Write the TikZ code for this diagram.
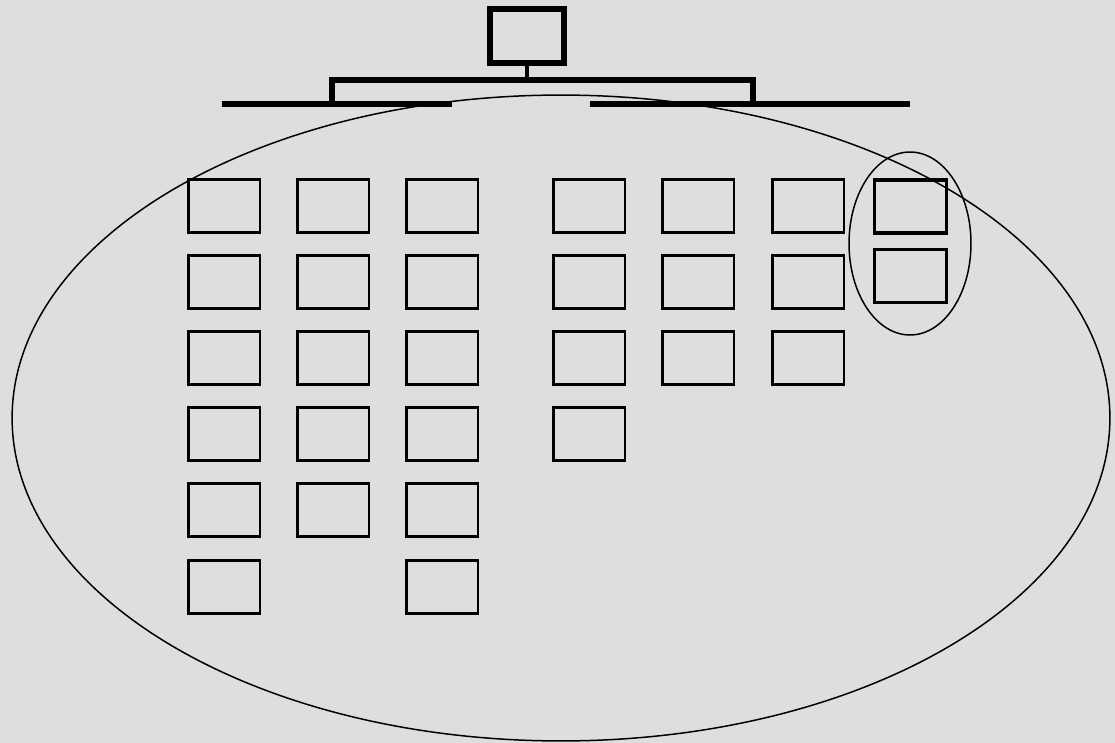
\documentclass[tikz,border=0pt]{standalone}
\usepackage{tikz}
\usetikzlibrary{shapes.geometric}
\definecolor{granite}{RGB}{222,222,222}

\begin{document}
\begin{tikzpicture}[
    x=0.02cm, y=-0.02cm,
    cell/.style={rectangle, draw, line width=1.7pt, minimum width=1.44cm, minimum height=1.06cm, inner sep=0pt},
    head/.style={rectangle, draw, line width=3.4pt, minimum width=1.48cm, minimum height=1.08cm, inner sep=0pt},
    bar/.style={line width=3.4pt},
    group/.style={ellipse, draw, line width=0.85pt, inner sep=0pt}
]
    % 背景
    \useasboundingbox (0,0) rectangle (1115,743);
    \fill[granite] (0,0) rectangle (1115,743);

    % 大椭圆
    \node[group, minimum width=21.96cm, minimum height=12.92cm] (all) at (561,418) {};

    % 顶部方框与支架
    \node[head] (top) at (527,36) {};
    \coordinate (stem) at (527,80);
    \coordinate (lj) at (332,104);
    \coordinate (rj) at (753,104);
    \coordinate (la) at (222,104);
    \coordinate (lb) at (452,104);
    \coordinate (ra) at (590,104);
    \coordinate (rb) at (910,104);
    \draw[line width=2.8pt] (top.south) -- (stem);
    \draw[bar] (lj) -- ++(0,-24) -| (rj);
    \draw[bar] (la) -- (lb);
    \draw[bar] (ra) -- (rb);

    % 方框阵列
    \foreach \x/\n [count=\i] in {224/6, 333/5, 442/6, 589/4, 698/3, 808/3}
        \foreach \y [count=\j] in {206,282,358,434,510,587}
            {\ifnum\j>\n\else \node[cell] (c\i-\j) at (\x,\y) {};\fi}

    % 右侧两框与小椭圆
    \node[cell, line width=2pt] (p1) at (910.5,206.5) {};
    \node[cell, line width=2pt] (p2) at (910.5,276) {};
    \node[group, minimum width=2.44cm, minimum height=3.66cm] (pair) at (910,243.5) {};
\end{tikzpicture}
\end{document}
